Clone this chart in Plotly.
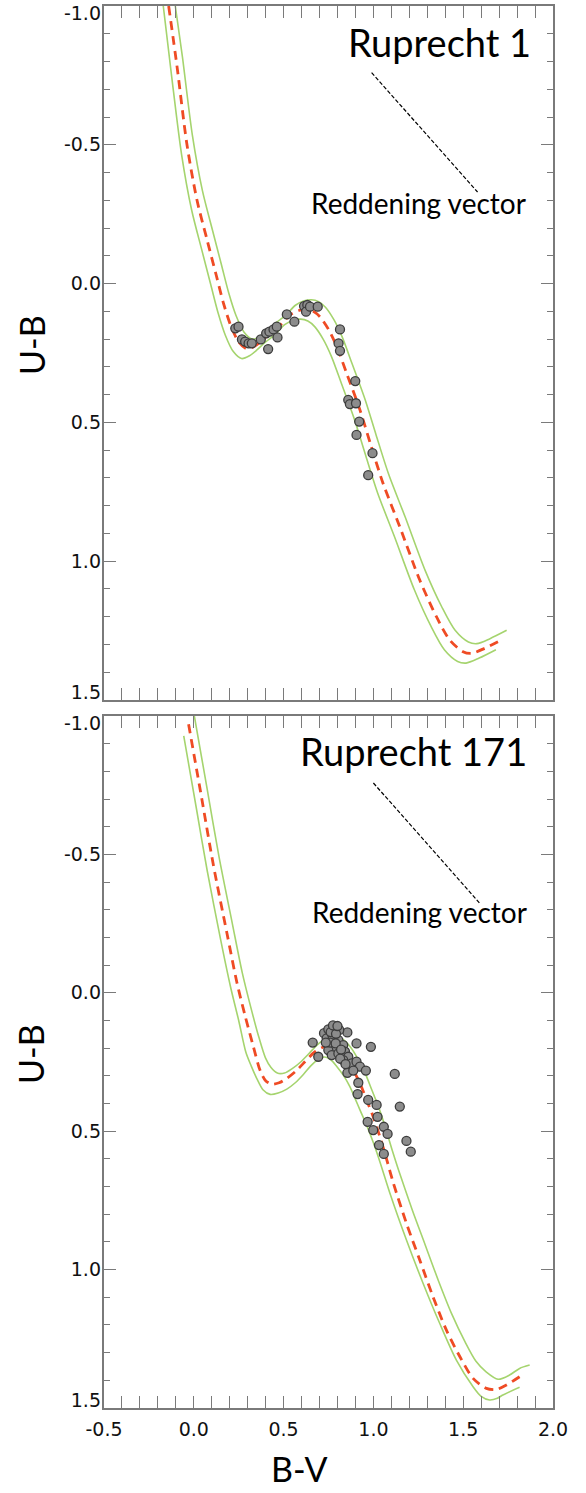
import plotly.graph_objects as go

# ---------------- Ruprecht 1 (top panel) ----------------
r1_bv = [0.231, 0.249, 0.268, 0.286, 0.305, 0.323, 0.373, 0.403, 0.421, 0.444, 0.462,
         0.414, 0.466, 0.518, 0.560, 0.614, 0.632, 0.625, 0.647, 0.690, 0.814, 0.806,
         0.814, 0.899, 0.860, 0.869, 0.903, 0.921, 0.906, 0.995, 0.971]
r1_ub = [0.161, 0.155, 0.201, 0.209, 0.215, 0.215, 0.201, 0.179, 0.173, 0.165, 0.155,
         0.236, 0.194, 0.111, 0.137, 0.081, 0.077, 0.101, 0.083, 0.083, 0.165, 0.215,
         0.242, 0.351, 0.419, 0.434, 0.431, 0.497, 0.545, 0.611, 0.690]

# intrinsic relation reddened to the cluster (dashed) and its envelope (green)
r1_fit_bv = [-0.140, -0.093, -0.038, 0.018, 0.073, 0.125, 0.165, 0.205, 0.250, 0.296,
             0.340, 0.380, 0.430, 0.480, 0.536, 0.585, 0.625, 0.665, 0.703, 0.750,
             0.796, 0.851, 0.925, 0.985, 1.054, 1.147, 1.258, 1.351, 1.425, 1.499,
             1.546, 1.619, 1.712]
r1_fit_ub = [-1.000, -0.780, -0.500, -0.300, -0.160, -0.030, 0.070, 0.150, 0.210, 0.235,
             0.225, 0.205, 0.175, 0.150, 0.113, 0.097, 0.093, 0.100, 0.120, 0.165,
             0.227, 0.323, 0.455, 0.580, 0.720, 0.876, 1.068, 1.200, 1.284, 1.326,
             1.332, 1.314, 1.284]

r1_lo_bv = [-0.170, -0.123, -0.068, -0.012, 0.043, 0.095, 0.135, 0.175, 0.220, 0.266,
            0.310, 0.350, 0.400, 0.450, 0.506, 0.555, 0.595, 0.635, 0.673, 0.720,
            0.766, 0.821, 0.895, 0.955, 1.024, 1.117, 1.228, 1.321, 1.395, 1.469,
            1.516, 1.589, 1.682]
r1_lo_ub = [-1.000, -0.745, -0.465, -0.265, -0.125, 0.005, 0.105, 0.185, 0.245, 0.270,
            0.260, 0.240, 0.210, 0.185, 0.148, 0.132, 0.128, 0.135, 0.155, 0.200,
            0.262, 0.358, 0.490, 0.615, 0.755, 0.911, 1.103, 1.235, 1.319, 1.361,
            1.367, 1.349, 1.319]

r1_hi_bv = [-0.103, -0.063, -0.008, 0.048, 0.103, 0.155, 0.195, 0.235, 0.280, 0.326,
            0.370, 0.410, 0.460, 0.510, 0.566, 0.615, 0.655, 0.695, 0.733, 0.780,
            0.826, 0.881, 0.955, 1.015, 1.084, 1.177, 1.288, 1.381, 1.455, 1.529,
            1.576, 1.649, 1.742]
r1_hi_ub = [-1.000, -0.815, -0.535, -0.335, -0.195, -0.065, 0.035, 0.115, 0.175, 0.200,
            0.190, 0.170, 0.140, 0.115, 0.078, 0.062, 0.058, 0.065, 0.085, 0.130,
            0.192, 0.288, 0.420, 0.545, 0.685, 0.841, 1.033, 1.165, 1.249, 1.291,
            1.297, 1.279, 1.249]

# ---------------- Ruprecht 171 (bottom panel) ----------------
r171_bv = [0.662, 0.693, 0.855, 0.906, 0.986, 1.119, 1.147, 1.184, 1.208,
           0.725, 0.749, 0.781, 0.810, 0.740, 0.773, 0.805, 0.832, 0.781, 0.749,
           0.768, 0.805, 0.842, 0.860, 0.832, 0.879, 0.906, 0.925, 0.958, 0.855,
           0.888, 0.916, 0.912, 0.971, 1.018, 0.968, 0.999, 1.023, 1.058, 1.079,
           1.031, 1.058,
           0.762, 0.792, 0.760, 0.790, 0.820, 0.815, 0.845, 0.735, 0.775, 0.800]
r171_ub = [0.180, 0.231, 0.143, 0.183, 0.195, 0.293, 0.411, 0.535, 0.574,
           0.146, 0.132, 0.125, 0.134, 0.165, 0.159, 0.171, 0.189, 0.195, 0.207,
           0.225, 0.219, 0.213, 0.231, 0.243, 0.255, 0.249, 0.267, 0.281, 0.289,
           0.281, 0.325, 0.366, 0.387, 0.405, 0.466, 0.496, 0.448, 0.484, 0.510,
           0.550, 0.582,
           0.142, 0.148, 0.180, 0.183, 0.205, 0.238, 0.258, 0.180, 0.118, 0.120]

r171_fit_bv = [-0.029, 0.045, 0.110, 0.184, 0.240, 0.286, 0.332, 0.369, 0.400, 0.435,
               0.475, 0.518, 0.565, 0.610, 0.675, 0.740, 0.795, 0.842, 0.888, 0.925,
               0.962, 0.999, 1.036, 1.073, 1.110, 1.184, 1.258, 1.332, 1.406, 1.481,
               1.555, 1.629, 1.684, 1.740, 1.814]
r171_fit_ub = [-0.970, -0.699, -0.458, -0.217, -0.037, 0.084, 0.195, 0.280, 0.318, 0.330,
               0.325, 0.309, 0.285, 0.255, 0.213, 0.192, 0.201, 0.231, 0.279, 0.327,
               0.387, 0.448, 0.520, 0.600, 0.685, 0.833, 0.965, 1.098, 1.218, 1.314,
               1.393, 1.429, 1.433, 1.417, 1.387]

r171_lo_bv = [-0.056, 0.015, 0.075, 0.150, 0.205, 0.250, 0.290, 0.320, 0.351, 0.385,
              0.425, 0.470, 0.518, 0.565, 0.610, 0.650, 0.693, 0.730, 0.765, 0.795,
              0.835, 0.869, 0.900, 0.925, 0.962, 0.999, 1.036, 1.092, 1.184, 1.277,
              1.369, 1.462, 1.555, 1.600, 1.647, 1.690, 1.721, 1.814]
r171_lo_ub = [-0.928, -0.664, -0.440, -0.190, -0.020, 0.100, 0.215, 0.265, 0.310, 0.350,
              0.367, 0.362, 0.348, 0.325, 0.295, 0.265, 0.240, 0.232, 0.243, 0.265,
              0.300, 0.339, 0.385, 0.423, 0.478, 0.540, 0.610, 0.724, 0.893, 1.050,
              1.194, 1.327, 1.423, 1.458, 1.471, 1.465, 1.453, 1.425]

r171_hi_bv = [0.003, 0.075, 0.140, 0.214, 0.270, 0.316, 0.362, 0.399, 0.430, 0.465,
              0.505, 0.548, 0.595, 0.640, 0.705, 0.770, 0.825, 0.872, 0.918, 0.955,
              0.992, 1.029, 1.066, 1.103, 1.140, 1.214, 1.288, 1.362, 1.436, 1.511,
              1.570, 1.629, 1.694, 1.758, 1.814, 1.870]
r171_hi_ub = [-1.000, -0.734, -0.493, -0.252, -0.072, 0.049, 0.160, 0.235, 0.270, 0.290,
              0.290, 0.274, 0.250, 0.220, 0.178, 0.157, 0.166, 0.196, 0.244, 0.292,
              0.352, 0.413, 0.485, 0.565, 0.640, 0.780, 0.910, 1.040, 1.160, 1.262,
              1.330, 1.370, 1.396, 1.381, 1.357, 1.345]

# reddening vector (B-V, U-B endpoints) drawn in each panel
vec_r1_bv = [0.99, 1.58]
vec_r1_ub = [-0.76, -0.33]
vec_r171_bv = [1.00, 1.59]
vec_r171_ub = [-0.758, -0.325]

# axis ticks
x_ticks = [-0.5, 0.0, 0.5, 1.0, 1.5, 2.0]
x_labels = ["-0.5", "0.0", "0.5", "1.0", "1.5", "2.0"]
y_ticks = [-1.0, -0.5, 0.0, 0.5, 1.0, 1.5]
y_labels = ["-1.0", "-0.5", "0.0", "0.5", "1.0", "1.5"]

RED = "#ef4b24"
GREEN = "#a5d46e"
DOT_FILL = "#8c8c8c"
DOT_EDGE = "#3c3c3c"
AXIS = "#7a7a7a"

fig = go.Figure()


def add_panel(xa, ya, lo, hi, fit, stars, vec):
    for bv, ub in (lo, hi):
        fig.add_trace(go.Scatter(x=bv, y=ub, mode="lines", xaxis=xa, yaxis=ya,
                                 line=dict(color=GREEN, width=1.6, shape="spline", smoothing=0.8),
                                 hoverinfo="skip", showlegend=False))
    fig.add_trace(go.Scatter(x=fit[0], y=fit[1], mode="lines", xaxis=xa, yaxis=ya,
                             line=dict(color=RED, width=2.8, dash="9px,6px", shape="spline", smoothing=0.8),
                             hoverinfo="skip", showlegend=False))
    fig.add_trace(go.Scatter(x=vec[0], y=vec[1], mode="lines", xaxis=xa, yaxis=ya,
                             line=dict(color="black", width=1.2, dash="4px,2px"),
                             hoverinfo="skip", showlegend=False))
    fig.add_trace(go.Scatter(x=stars[0], y=stars[1], mode="markers", xaxis=xa, yaxis=ya,
                             marker=dict(size=9, color=DOT_FILL, line=dict(color=DOT_EDGE, width=1.3)),
                             showlegend=False))


add_panel("x2", "y2", (r1_lo_bv, r1_lo_ub), (r1_hi_bv, r1_hi_ub), (r1_fit_bv, r1_fit_ub),
          (r1_bv, r1_ub), (vec_r1_bv, vec_r1_ub))
add_panel("x", "y", (r171_lo_bv, r171_lo_ub), (r171_hi_bv, r171_hi_ub), (r171_fit_bv, r171_fit_ub),
          (r171_bv, r171_ub), (vec_r171_bv, vec_r171_ub))

# empty traces so the overlay axes that carry the U-B numbers get drawn
for xa, ya in (("x", "y3"), ("x2", "y4")):
    fig.add_trace(go.Scatter(x=[None], y=[None], mode="markers", xaxis=xa, yaxis=ya,
                             hoverinfo="skip", showlegend=False))

tick_font = dict(family="DejaVu Sans", size=19, color="#111")
minor_common = dict(ticks="inside", ticklen=6, tickwidth=1.2, tickcolor=AXIS, showgrid=False)
axis_common = dict(showline=True, linecolor=AXIS, linewidth=1.5, mirror="allticks",
                   ticks="inside", ticklen=12, tickwidth=1.2, tickcolor=AXIS,
                   showgrid=False, zeroline=False, tickfont=tick_font, automargin=False)

Y_RANGE = [1.5, -1.0]
xaxis_kw = dict(range=[-0.5, 2.0], tickmode="array", tickvals=x_ticks, ticktext=x_labels,
                ticklabelstandoff=3,
                minor=dict(tick0=-0.5, dtick=0.1, **minor_common), **axis_common)
# the framed y axes carry the tick marks; their numbers sit on a plain overlay axis
yaxis_kw = dict(range=Y_RANGE, tickmode="array", tickvals=y_ticks, showticklabels=False,
                minor=dict(tick0=-1.0, dtick=0.1, **minor_common), **axis_common)

# the end numbers are nudged inside the frame so neighbouring panels stay readable
END_NUDGE = 0.026
label_pos = list(y_ticks)
label_pos[0] += END_NUDGE
label_pos[-1] -= END_NUDGE
ylabel_kw = dict(range=Y_RANGE, tickmode="array", tickvals=label_pos, ticktext=y_labels,
                 showline=False, ticks="", showgrid=False, zeroline=False,
                 tickfont=tick_font, automargin=False, ticklabelstandoff=2)

TOP_DOMAIN = [0.50499, 1.0]
BOTTOM_DOMAIN = [0.0, 0.49358]

fig.update_layout(
    width=586, height=1493,
    margin=dict(l=104, r=33, t=6, b=85),
    paper_bgcolor="white", plot_bgcolor="white",
    showlegend=False,
    xaxis=dict(anchor="y", domain=[0, 1], **xaxis_kw),
    yaxis=dict(anchor="x", domain=BOTTOM_DOMAIN, **yaxis_kw),
    xaxis2=dict(anchor="y2", domain=[0, 1], matches="x", showticklabels=False,
                **{k: v for k, v in xaxis_kw.items()}),
    yaxis2=dict(anchor="x2", domain=TOP_DOMAIN, **yaxis_kw),
    yaxis3=dict(overlaying="y", anchor="x", side="left", **ylabel_kw),
    yaxis4=dict(overlaying="y2", anchor="x2", side="left", **ylabel_kw),
)

title_font = dict(family="Lato", size=38, color="black")
label_font = dict(family="Lato", size=28, color="black")
axis_title_font = dict(family="Lato", size=34, color="black")

annotations = [
    dict(text="Ruprecht 1", x=1.886, y=-0.872, xref="x2", yref="y2",
         xanchor="right", yanchor="middle", showarrow=False, font=title_font),
    dict(text="Reddening vector", x=1.858, y=-0.290, xref="x2", yref="y2",
         xanchor="right", yanchor="middle", showarrow=False, font=label_font),
    dict(text="Ruprecht 171", x=1.864, y=-0.872, xref="x", yref="y",
         xanchor="right", yanchor="middle", showarrow=False, font=title_font),
    dict(text="Reddening vector", x=1.869, y=-0.292, xref="x", yref="y",
         xanchor="right", yanchor="middle", showarrow=False, font=label_font),
    dict(text="U-B", x=-0.1626, y=0.7582, xref="paper", yref="paper", textangle=-90,
         xanchor="center", yanchor="middle", showarrow=False, font=axis_title_font),
    dict(text="U-B", x=-0.1626, y=0.2525, xref="paper", yref="paper", textangle=-90,
         xanchor="center", yanchor="middle", showarrow=False, font=axis_title_font),
    dict(text="B-V", x=0.4365, y=-0.059, xref="paper", yref="paper",
         xanchor="center", yanchor="bottom", showarrow=False, font=axis_title_font),
]
fig.update_layout(annotations=annotations)

fig.write_html("out.html")
